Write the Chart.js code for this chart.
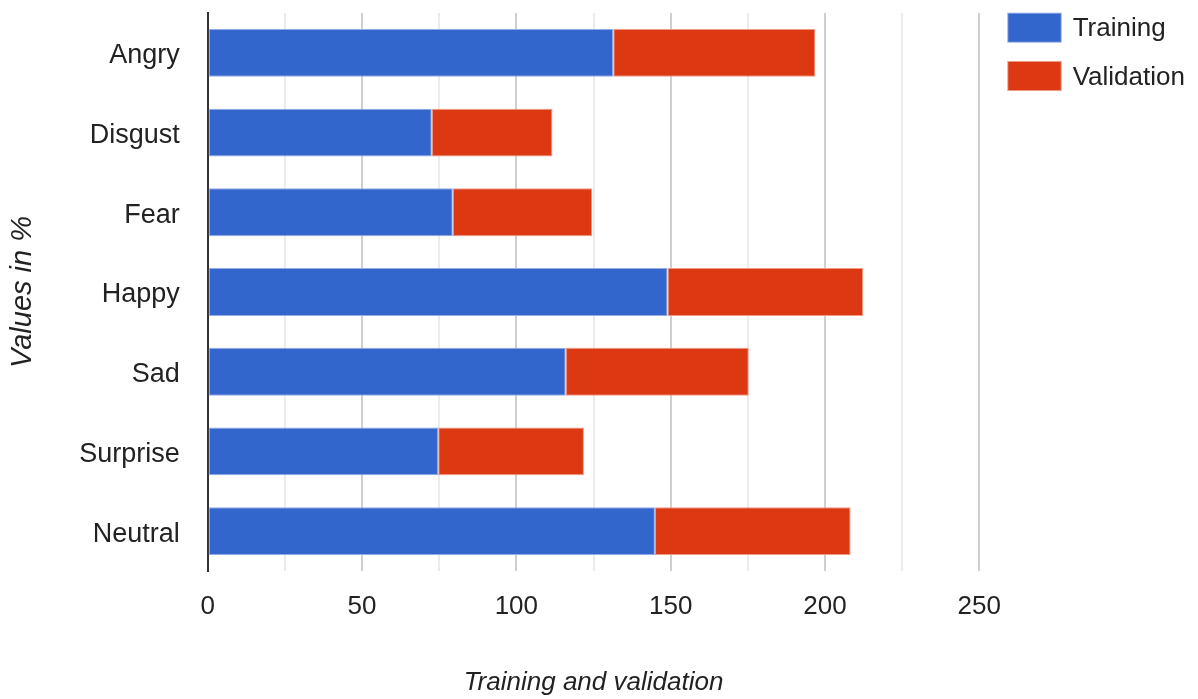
<!DOCTYPE html>
<html>
<head>
<meta charset="utf-8">
<script src="https://cdn.jsdelivr.net/npm/chart.js@4"></script>
<style>
  html, body { margin: 0; padding: 0; background: #fff; }
  #wrap { width: 1198px; height: 699px; position: relative; }
</style>
</head>
<body>
<div id="wrap"><canvas id="c" width="1198" height="699"></canvas></div>
<script>
const categories = ["Angry", "Disgust", "Fear", "Happy", "Sad", "Surprise", "Neutral"];
const trainingValues = [131.4, 72.6, 79.4, 149.0, 116.0, 74.7, 144.9];
const validationValues = [65.5, 39.1, 45.2, 63.4, 59.3, 47.2, 63.4];
const seriesNames = ["Training", "Validation"];
const xTickLabels = [0, 50, 100, 150, 200, 250];
const xAxisTitle = "Training and validation";
const yAxisTitle = "Values in %";

const FONT = "'Liberation Sans', Arial, sans-serif";
const TEXT = "#222222";
const BLUE = "#3366cc";
const RED = "#dc3912";

const legendPlugin = {
  id: 'customLegend',
  afterDraw(chart) {
    const ctx = chart.ctx;
    ctx.save();
    const x0 = chart.chartArea.right + 28;
    chart.data.datasets.forEach((ds, i) => {
      const top = 12.7 + i * 48.3;
      ctx.fillStyle = ds.borderColor;
      ctx.fillRect(x0, top, 54.4, 30);
      ctx.fillStyle = ds.backgroundColor;
      ctx.fillRect(x0 + 1, top + 1, 52.4, 28);
      ctx.fillStyle = TEXT;
      ctx.font = "26px " + FONT;
      ctx.textBaseline = 'middle';
      ctx.textAlign = 'left';
      ctx.fillText(ds.label, x0 + 65.4, top + 16.5);
    });
    ctx.restore();
  }
};

new Chart(document.getElementById('c'), {
  type: 'bar',
  data: {
    labels: categories,
    datasets: [
      { label: seriesNames[0], data: trainingValues, backgroundColor: BLUE, borderColor: "#93abe6", borderWidth: 1, borderSkipped: false },
      { label: seriesNames[1], data: validationValues, backgroundColor: RED, borderColor: "#ee9a86", borderWidth: 1, borderSkipped: false }
    ]
  },
  options: {
    indexAxis: 'y',
    responsive: false,
    animation: false,
    maintainAspectRatio: false,
    layout: { padding: { top: 13, right: 218.7, bottom: 0, left: 0 } },
    datasets: { bar: { barPercentage: 0.6, categoryPercentage: 1.0 } },
    plugins: {
      legend: { display: false },
      tooltip: { enabled: false }
    },
    scales: {
      x: {
        stacked: true,
        min: 0,
        max: 250,
        afterFit(scale) { scale.height = 128; },
        afterBuildTicks(scale) {
          const t = [];
          for (let v = 0; v <= 250; v += 25) t.push({ value: v });
          scale.ticks = t;
        },
        ticks: {
          autoSkip: false,
          maxRotation: 0,
          padding: 20,
          color: TEXT,
          font: { family: FONT, size: 26 },
          callback: (v) => xTickLabels.includes(v) ? String(v) : ''
        },
        grid: {
          drawTicks: false,
          lineWidth: 2,
          color: (ctx) => (ctx.tick && ctx.tick.value % 50 === 0) ? '#cfcfcf' : '#ebebeb'
        },
        border: { display: false },
        title: {
          display: true,
          text: xAxisTitle,
          color: TEXT,
          font: { family: FONT, size: 26, style: 'italic' },
          padding: { top: 0, bottom: 1 }
        }
      },
      y: {
        stacked: true,
        afterFit(scale) { scale.width = 207.7; },
        ticks: {
          padding: 0,
          labelOffset: 3,
          color: TEXT,
          font: { family: FONT, size: 27, lineHeight: 0.96 }
        },
        grid: {
          display: true,
          drawOnChartArea: false,
          drawTicks: true,
          tickLength: 28,
          color: 'rgba(0,0,0,0)',
          tickColor: 'rgba(0,0,0,0)'
        },
        border: { display: true, color: '#333333', width: 2 },
        title: {
          display: true,
          text: yAxisTitle,
          color: TEXT,
          font: { family: FONT, size: 29, style: 'italic', lineHeight: 1.2 },
          padding: { top: 6, bottom: 0 }
        }
      }
    }
  },
  plugins: [legendPlugin]
});
</script>
</body>
</html>
